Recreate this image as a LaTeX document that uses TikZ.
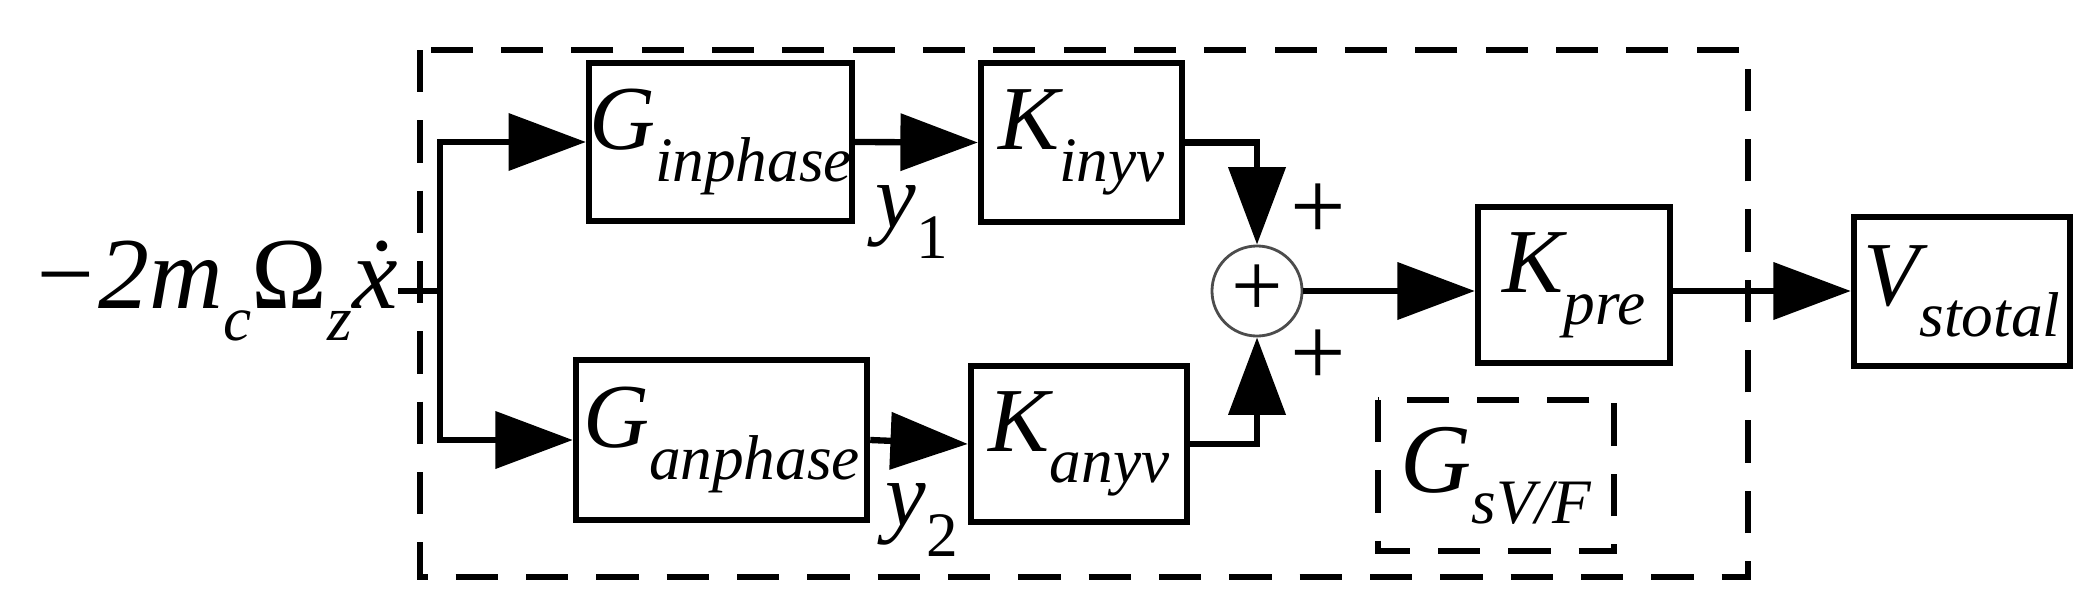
\documentclass[tikz,border=0pt]{standalone}
\usepackage{fontspec}
\setmainfont{Liberation Serif}
\usetikzlibrary{arrows.meta}
\newcommand{\sbx}[1]{\raisebox{-9pt}{\fontsize{18}{20}\selectfont\itshape #1}}
\begin{document}
\begin{tikzpicture}[x=0.01cm,y=-0.01cm,
  blk/.style={draw,line width=1.8pt,rectangle,inner sep=0pt,font=\fontsize{26}{30}\selectfont\itshape},
  ln/.style={line width=1.8pt},
  arr/.style={ln,-{Triangle[length=22pt,width=16pt]}},
  dsh/.style={line width=1.8pt,dash pattern=on 12pt off 8pt}]
\useasboundingbox (0,0) rectangle (2092,609);
\draw[dsh] (420,50) rectangle (1748,577);
\draw[dsh] (1378,400) rectangle (1614,551);
\node[blk,minimum width=2.15cm,minimum height=1.58cm] (gi) at (720.5,142) {G\sbx{inphase}};
\node[blk,minimum width=2.01cm,minimum height=1.59cm] (ki) at (1081.5,142.5) {K\sbx{inyv}};
\node[blk,minimum width=2.91cm,minimum height=1.60cm] (ga) at (721.5,440) {G\sbx{anphase}};
\node[blk,minimum width=2.16cm,minimum height=1.56cm] (ka) at (1079,444) {K\sbx{anyv}};
\node[blk,minimum width=1.92cm,minimum height=1.56cm] (kp) at (1574,285) {K\sbx{pre}};
\node[blk,minimum width=2.16cm,minimum height=1.49cm] (vs) at (1962,291.5) {V\sbx{stotal}};
\node[circle,draw=black!70,line width=0.8pt,minimum size=0.9cm,inner sep=0pt,font=\fontsize{26}{30}\selectfont] (s) at (1257,291) {+};
\node[font=\fontsize{28}{32}\selectfont\itshape] at (1496,476) {G\sbx{sV/F}};
\node[font=\fontsize{29}{32}\selectfont,anchor=east,inner sep=0pt] (in) at (398,291) {\textit{−2m}\sbx{c}Ω\sbx{z}\textit{ẋ}};
\node[font=\fontsize{26}{28}\selectfont\itshape] at (912,222) {y\sbx{\upshape 1}};
\node[font=\fontsize{26}{28}\selectfont\itshape] at (922,520) {y\sbx{\upshape 2}};
\node[font=\fontsize{28}{30}\selectfont] at (1318,212) {+};
\node[font=\fontsize{28}{30}\selectfont] at (1318,358) {+};
\coordinate (j) at (440,291);
\draw[ln] (in.east) -- (j);
\draw[arr] (j) |- (gi.west);
\draw[arr] (j) |- (ga.west);
\draw[arr] (gi.east) -- (ki.west);
\draw[arr] (ga.east) -- (ka.west);
\draw[arr] (ki.east) -| (s.north);
\draw[arr] (ka.east) -| (s.south);
\draw[arr] (s.east) -- (s.east -| kp.west);
\draw[arr] (s.east -| kp.east) -- (s.east -| vs.west);
\end{tikzpicture}
\end{document}
